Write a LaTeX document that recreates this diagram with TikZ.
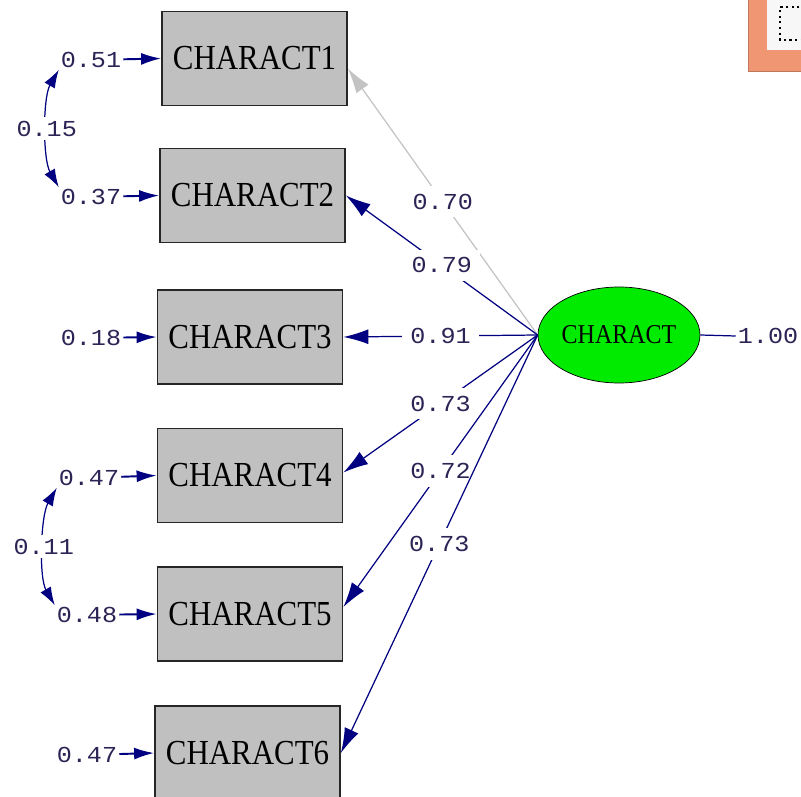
\documentclass[tikz,border=0pt]{standalone}
\usepackage{fontspec}
\usetikzlibrary{arrows.meta,shapes.geometric}
\newfontfamily\numfont[FakeStretch=1.1]{Liberation Mono}
\newfontfamily\boxfont[FakeStretch=0.88]{Liberation Serif}
\definecolor{pathblue}{RGB}{0,0,128}
\definecolor{numtext}{RGB}{45,35,85}
\definecolor{boxgray}{RGB}{192,192,192}
\definecolor{latgreen}{RGB}{0,235,0}
\definecolor{fadegray}{RGB}{195,195,195}
\definecolor{winorange}{RGB}{240,150,115}
\begin{document}
\begin{tikzpicture}[
  obs/.style={shape=rectangle,draw=black!85,line width=1pt,fill=boxgray,minimum width=3.7cm,minimum height=1.88cm,font=\boxfont\fontsize{20}{24}\selectfont},
  lat/.style={shape=ellipse,draw=black,fill=latgreen,minimum width=3.12cm,minimum height=1.92cm,inner sep=0pt,font=\boxfont\fontsize{15.5}{18}\selectfont},
  num/.style={text=numtext,font=\numfont\fontsize{13}{15}\selectfont,inner sep=1pt},
  coef/.style={num,fill=white,inner sep=4.5pt},
  load/.style={-{Latex[length=5mm,width=3mm]},draw=pathblue,line width=0.7pt},
  err/.style={-{Latex[length=4mm,width=2.4mm]},draw=pathblue,line width=1.1pt},
  cov/.style={{Latex[length=3.6mm,width=2.4mm]}-{Latex[length=3.6mm,width=2.4mm]},draw=pathblue,line width=0.7pt}
]
\useasboundingbox (0,0) rectangle (16.02,-15.94);
% window corner at top right
\fill[winorange,draw=winorange!80!black] (14.96,0.1) rectangle (16.1,-1.42);
\fill[black!3] (15.34,0.1) rectangle (16.1,-1.0);
\draw[dotted,line width=1.2pt] (16.1,-0.14) -- (15.6,-0.14) -- (15.6,-0.80) -- (16.1,-0.80);
% observed variables
\node[obs] (c1) at (5.09,-1.17) {CHARACT1};
\node[obs] (c2) at (5.05,-3.91) {CHARACT2};
\node[obs] (c3) at (5.00,-6.74) {CHARACT3};
\node[obs] (c4) at (5.00,-9.51) {CHARACT4};
\node[obs] (c5) at (5.00,-12.28) {CHARACT5};
\node[obs] (c6) at (4.95,-15.06) {CHARACT6};
% latent variable
\node[lat] (ch) at (12.38,-6.70) {CHARACT};
\node[num] (v) at (15.36,-6.72) {1.00};
% error variances
\node[num] (e1) at (1.82,-1.20) {0.51};
\node[num] (e2) at (1.82,-3.94) {0.37};
\node[num] (e3) at (1.82,-6.76) {0.18};
\node[num] (e4) at (1.78,-9.56) {0.47};
\node[num] (e5) at (1.74,-12.30) {0.48};
\node[num] (e6) at (1.74,-15.10) {0.47};
\path (e1) edge[err] (c1.west);
\path (e2) edge[err] (c2.west);
\path (e3) edge[err] (c3.west);
\path (e4) edge[err] (c4.west);
\path (e5) edge[err] (c5.west);
\path (e6) edge[err] (c6.west);
% error covariances
\path (e1.south west) edge[cov,out=-120,in=120,looseness=0.7] node[coef,midway,inner sep=2pt] {0.15} (e2.north west);
\path (e4.south west) edge[cov,out=-120,in=120,looseness=0.7] node[coef,midway,inner sep=2pt] {0.11} (e5.north west);
% loadings
\path (ch.west) edge[load,draw=fadegray] node[coef,midway] {0.70} ([yshift=-0.2cm]c1.east);
\path (ch.west) edge[load] node[coef,midway] {0.79} (c2.east);
\path (ch.west) edge[load] node[coef,midway] {0.91} (c3.east);
\path (ch.west) edge[load] node[coef,midway] {0.73} ([yshift=0.06cm]c4.east);
\path (ch.west) edge[load] node[coef,midway] {0.72} ([yshift=0.14cm]c5.east);
\path (ch.west) edge[load] node[coef,midway] {0.73} (c6.east);
\path (ch.east) edge[-,draw=pathblue,line width=0.7pt] (v.west);
\end{tikzpicture}
\end{document}
